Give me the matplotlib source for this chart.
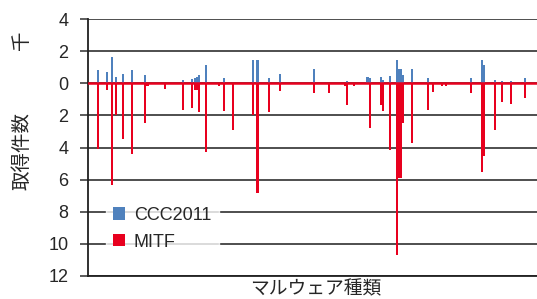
import matplotlib
matplotlib.use("Agg")
import matplotlib.pyplot as plt
import numpy as np

plt.rcParams['font.family'] = ['Liberation Sans', 'Noto Sans CJK JP', 'DejaVu Sans']

# ---- data (thousands of samples per malware type) ----
n_types = 200
type_index = [4, 8, 10, 12, 15, 19, 25, 26, 34, 42, 46, 47, 48, 49, 52, 58, 60, 64,
              73, 75, 80, 85, 100, 107, 114, 115, 118, 124, 125, 130, 131, 134, 137,
              138, 139, 140, 144, 151, 153, 157, 159, 170, 175, 176, 181, 184, 188, 194]
ccc2011 = [0.85, 0.67, 1.64, 0.40, 0.60, 0.85, 0.52, 0.00, 0.00, 0.20, 0.25, 0.30, 0.37,
           0.50, 1.16, 0.00, 0.30, 0.00, 1.43, 1.43, 0.30, 0.60, 0.87, 0.00, 0.00, 0.12,
           0.00, 0.40, 0.30, 0.40, 0.20, 0.45, 1.43, 0.87, 0.87, 0.50, 0.87, 0.30, 0.00,
           0.00, 0.00, 0.33, 1.43, 1.16, 0.20, 0.15, 0.15, 0.30]
mitf = [4.07, 0.40, 6.35, 2.00, 3.45, 4.38, 2.47, 0.20, 0.33, 1.64, 1.56, 0.44, 0.44,
        1.78, 4.27, 0.20, 1.72, 2.93, 2.00, 6.85, 1.78, 0.50, 0.60, 0.60, 0.20, 1.37,
        0.20, 0.00, 2.76, 1.35, 1.74, 4.17, 10.70, 5.90, 5.90, 2.47, 3.70, 1.64, 0.55,
        0.15, 0.15, 0.60, 5.50, 4.50, 2.90, 1.15, 1.27, 0.90]
series_labels = ['CCC2011', 'MITF']
y_ticks = [4, 2, 0, -2, -4, -6, -8, -10, -12]
y_label = '取得件数'
unit_label = '千'
x_label = 'マルウェア種類'

blue = '#4F81BD'
red = '#E8001E'

fig = plt.figure(figsize=(5.37, 2.99), dpi=100)
ax = fig.add_axes([88/537, 1-276/299, 1-88/537, 257/299])

x = np.array(type_index)
ax.bar(x, ccc2011, width=0.9, color=blue, label=series_labels[0], zorder=3)
ax.bar(x, -np.array(mitf), width=0.9, color=red, label=series_labels[1], zorder=3)
ax.axhline(0, color=red, lw=1.8, zorder=4)

ax.set_xlim(-0.5, n_types - 0.5)
ax.set_ylim(-12, 4)
ax.set_yticks(y_ticks)
ax.set_yticklabels([str(abs(v)) for v in y_ticks])
ax.yaxis.grid(True, color='#404040', lw=1.3, zorder=0)
ax.set_axisbelow(True)
ax.set_xticks([])
ax.tick_params(axis='y', direction='out', length=6, width=1.2, color='#404040',
               labelsize=13, pad=8, labelcolor='#262626')
for s in ['top', 'right']:
    ax.spines[s].set_visible(False)
ax.spines['left'].set_color('#202020')
ax.spines['left'].set_linewidth(1.3)
ax.spines['bottom'].set_color('#202020')
ax.spines['bottom'].set_linewidth(1.3)

leg = ax.legend(loc='lower left', bbox_to_anchor=(0.02, 0.035), frameon=True,
                fontsize=13, handlelength=0.65, handleheight=0.65, handletextpad=0.5,
                labelspacing=0.55, borderpad=0.4, fancybox=False)
leg.get_frame().set_facecolor('white')
leg.get_frame().set_edgecolor('white')
for t in leg.get_texts():
    t.set_color('#262626')

fig.text(22/537, 1-151/299, y_label, rotation=90, ha='center', va='center',
         fontsize=14, color='#262626')
fig.text(22/537, 1-40/299, unit_label, rotation=90, ha='center', va='center',
         fontsize=14, color='#262626')
fig.text(316/537, 1/299, x_label, ha='center', va='bottom', fontsize=13.5, color='#262626')

fig.savefig('out.png', dpi=100)
